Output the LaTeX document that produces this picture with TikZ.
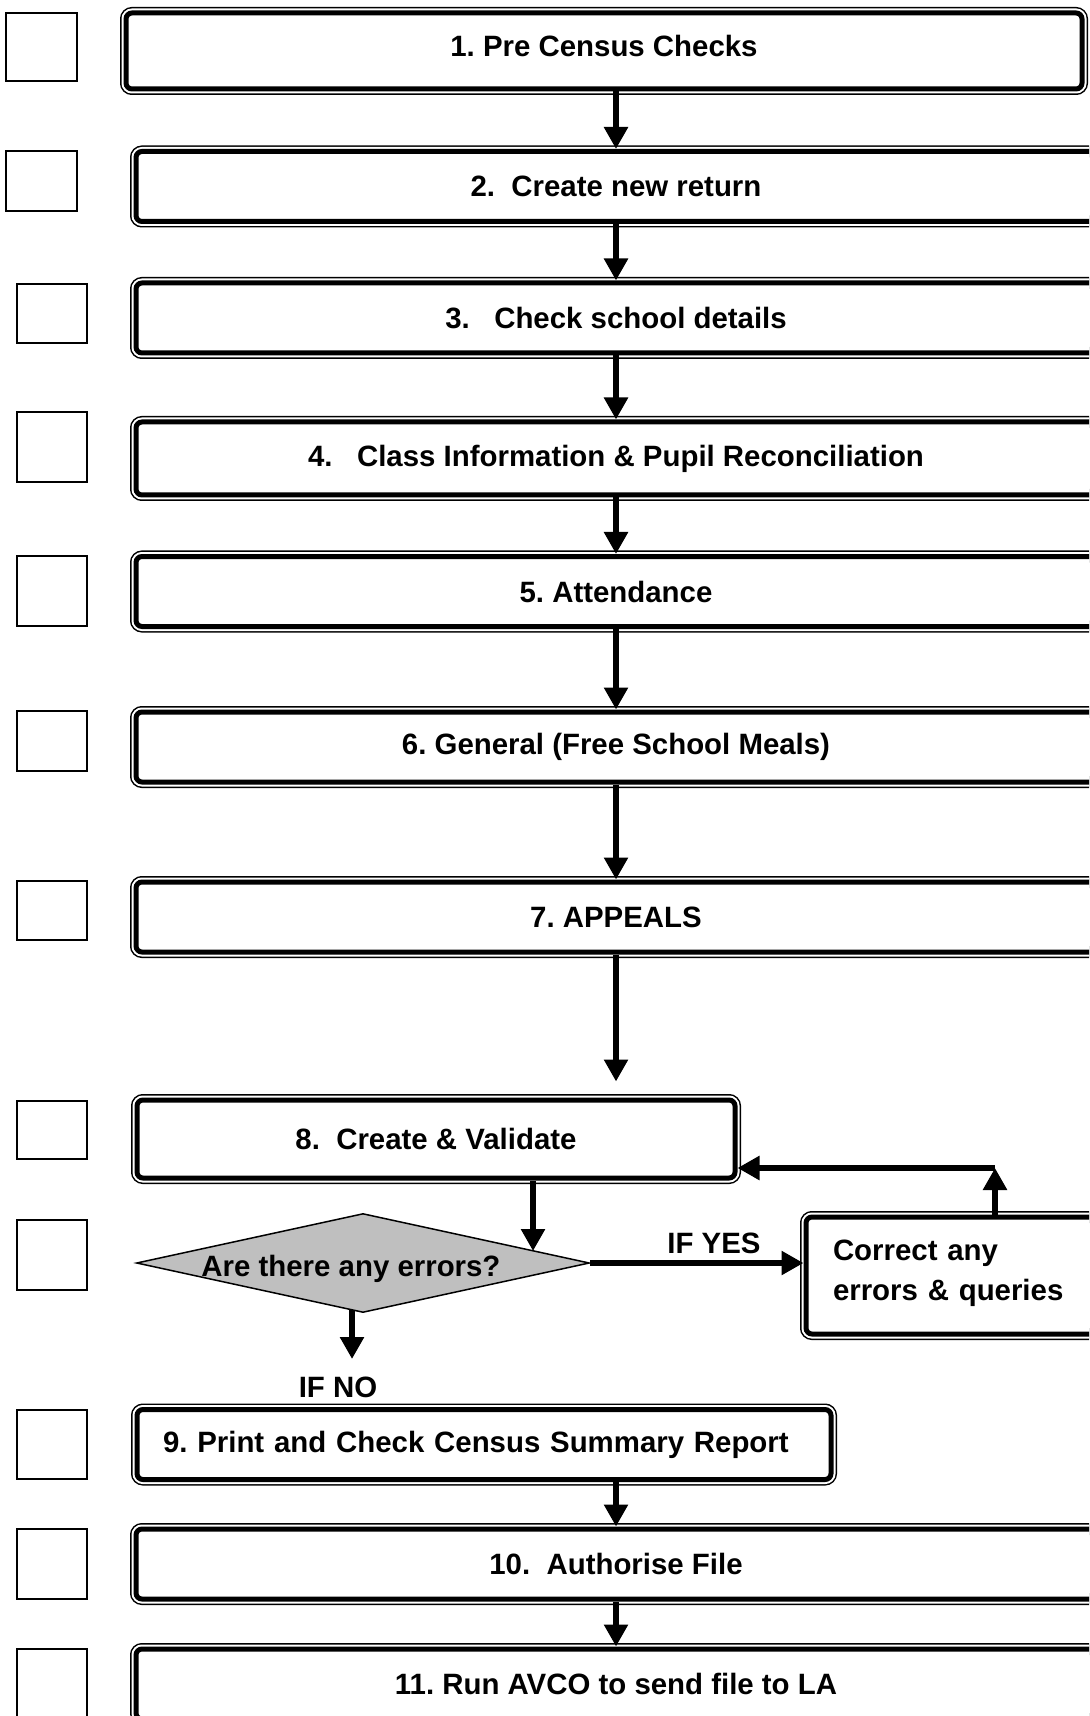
\documentclass[tikz,border=0pt]{standalone}
\usepackage{fontspec}
\setmainfont{Liberation Sans}
\usetikzlibrary{arrows.meta,shapes.geometric}
\frenchspacing

\tikzset{
  stepbox/.style={rectangle, rounded corners=3pt, draw, fill=white, line width=2.5pt,
    preaction={draw, line width=6pt},
    preaction={draw=white, line width=4.5pt},
    minimum width=480pt, minimum height=35pt, inner sep=0pt,
    font=\bfseries\fontsize{14.7}{17.6}\selectfont},
  tickbox/.style={rectangle, draw, line width=1pt, minimum width=35pt,
    minimum height=35pt, inner sep=0pt},
  query/.style={diamond, draw, fill=gray!50, line width=0.75pt, shape aspect=4.58,
    minimum width=226.5pt, minimum height=49.5pt, inner sep=0pt,
    font=\bfseries\fontsize{14.7}{17.6}\selectfont},
  answer/.style={font=\bfseries\fontsize{14.7}{17.6}\selectfont, inner sep=1pt},
  arr/.style={line width=3pt, -{Triangle[width=11.5pt,length=11pt]}}
}

\begin{document}
\begin{tikzpicture}[x=0.5pt,y=-0.5pt]
\path[use as bounding box] (0,0) rectangle (1089,1716);
\clip (0,0) rectangle (1089,1716);

% tick boxes down the left side
\node[tickbox, minimum width=35.5pt, minimum height=34pt] (c1) at (41.5,47) {};
\node[tickbox, minimum width=35.5pt, minimum height=30pt] (c2) at (41.5,181) {};
\node[tickbox, minimum height=29.5pt] (c3) at (52,313.5) {};
\node[tickbox] (c4) at (52,447) {};
\node[tickbox] (c5) at (52,591) {};
\node[tickbox, minimum height=30pt] (c6) at (52,741) {};
\node[tickbox, minimum height=29.5pt] (c7) at (52,910.5) {};
\node[tickbox, minimum height=29pt] (c8) at (52,1130) {};
\node[tickbox] (c9) at (52,1255) {};
\node[tickbox, minimum height=34.5pt] (c10) at (52,1444.5) {};
\node[tickbox] (c11) at (52,1564) {};
\node[tickbox] (c12) at (52,1684) {};

% steps
\node[stepbox, minimum width=478pt, minimum height=38pt] (b1) at (604,51)
  {\raisebox{2.5pt}[\height][\depth]{1. Pre Census Checks}};
\node[stepbox] (b2) at (616,186.5) {2.\ \ Create new return};
\node[stepbox] (b3) at (616,318) {3.\ \ \ Check school details};
\node[stepbox, minimum height=36.5pt] (b4) at (616,458.5)
  {4.\ \ \ Class Information \& Pupil Reconciliation};
\node[stepbox] (b5) at (616,591.5) {5. Attendance};
\node[stepbox] (b6) at (616,747) {6. General (Free School Meals)};
\node[stepbox] (b7) at (616,917) {7. APPEALS};
\node[stepbox, minimum width=299pt, minimum height=39pt] (b8) at (436,1139)
  {8.\ \ Create \& Validate};
\node[query] (errq) at (363,1263)
  {\raisebox{-3pt}[\height][\depth]{Are there any errors?}\hspace*{12pt}};
\node[stepbox, minimum width=147pt, minimum height=58.5pt, inner xsep=13.5pt,
  text width=120pt, align=left] (fix) at (953,1275.5)
  {\raisebox{2.5pt}[\height][\depth]{Correct any}\\errors \& queries};
\node[answer] (ifno) at (338,1387) {IF NO};
\node[stepbox, minimum width=347pt, inner xsep=13pt, text width=321pt, align=left]
  (b9) at (484,1444.5) {9. Print and Check Census Summary Report};
\node[stepbox] (b10) at (616,1564) {10.\ \ Authorise File};
\node[stepbox] (b11) at (616,1684) {11. Run AVCO to send file to LA};

% flow
\draw[arr] (b1.south -| b2.north) -- (b2.north);
\draw[arr] (b2.south) -- (b3.north);
\draw[arr] (b3.south) -- (b4.north);
\draw[arr] (b4.south) -- (b5.north);
\draw[arr] (b5.south) -- (b6.north);
\draw[arr] (b6.south) -- (b7.north);
\draw[arr, shorten >=8pt] (b7.south) -- (b7.south |- b8.north);
\coordinate (hit) at (533,1251);
\draw[arr] (b8.south -| hit) -- (hit);
\draw[arr] (errq.east) -- (errq.east -| fix.west)
  node[answer, above=2pt, pos=0.58] (ifyes) {IF YES};
\coordinate (turn) at (995,1168);
\draw[arr] (fix.north -| turn) -- (turn);
\draw[arr] (turn) -- (turn -| b8.east);
\coordinate (noend) at (352,1359);
\draw[arr, shorten <=-1.5pt] (errq.south -| noend) -- (noend);
\draw[arr] (b9.south -| b10.north) -- (b10.north);
\draw[arr] (b10.south) -- (b11.north);
\end{tikzpicture}
\end{document}
